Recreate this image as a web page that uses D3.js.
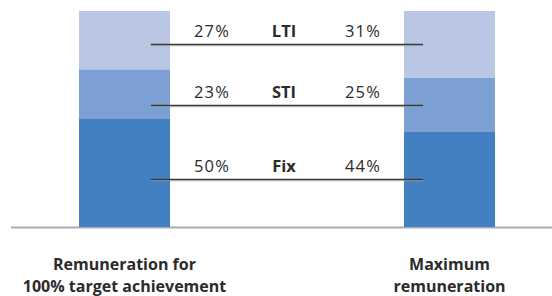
<!DOCTYPE html>
<html>
<head>
<meta charset="utf-8">
<script src="https://cdn.jsdelivr.net/npm/d3@7"></script>
<style>
  html, body { margin: 0; padding: 0; background: #fff; }
  svg { display: block; }
</style>
</head>
<body>
<svg id="chart" width="552" height="296"></svg>
<script>
const categories = ["Remuneration for|100% target achievement", "Maximum|remuneration"];
const components = ["Fix", "STI", "LTI"];
const fixValues = [50, 44];
const stiValues = [23, 25];
const ltiValues = [27, 31];
const yTicks = [0, 100];

const colors = { Fix: "#4380c2", STI: "#7c9fd4", LTI: "#b9c7e5" };
const seriesValues = { Fix: fixValues, STI: stiValues, LTI: ltiValues };

const svg = d3.select("#chart");
const W = 552, H = 296;

const x = d3.scaleBand().domain(categories).range([79, 495]).paddingInner(0.72).paddingOuter(0);
const y = d3.scaleLinear().domain([0, 100]).range([227, 11]);

const rows = categories.map((c, i) => {
  const r = { cat: c };
  components.forEach(k => r[k] = seriesValues[k][i]);
  return r;
});
const stacked = d3.stack().keys(components)(rows);

// baseline axis
svg.append("line")
  .attr("x1", 11).attr("x2", W)
  .attr("y1", y(0) + 0.5).attr("y2", y(0) + 0.5)
  .attr("stroke", "#a7aeb2").attr("stroke-width", 2);

// bars
svg.append("g").selectAll("g").data(stacked).join("g")
  .attr("fill", d => colors[d.key])
  .selectAll("rect").data(d => d).join("rect")
  .attr("x", d => x(d.data.cat))
  .attr("width", x.bandwidth())
  .attr("y", d => y(d[1]))
  .attr("height", d => y(d[0]) - y(d[1]));

// leader lines and labels
const last = categories.length - 1;
const lineX1 = x(categories[0]) + x.bandwidth() * 0.79;
const lineX2 = x(categories[last]) + x.bandwidth() * 0.21;
const leftX = 212, midX = 284, rightX = 363;

stacked.forEach(s => {
  const seg = s[last];
  const ly = Math.round((y(seg[0]) + y(seg[1])) / 2) + 0.5;
  svg.append("line")
    .attr("x1", lineX1).attr("x2", lineX2)
    .attr("y1", ly).attr("y2", ly)
    .attr("stroke", "#3a3a3a").attr("stroke-width", 1.3);
  svg.append("line")
    .attr("x1", lineX1).attr("x2", lineX2)
    .attr("y1", ly + 1.2).attr("y2", ly + 1.2)
    .attr("stroke", "#9a9a9a").attr("stroke-width", 0.8);
  const ty = ly - 8;
  const g = svg.append("g")
    .attr("font-family", "'Open Sans', sans-serif")
    .attr("font-size", 16.5)
    .attr("fill", "#2b2b2b")
    .attr("text-anchor", "middle");
  g.append("text").attr("x", leftX).attr("y", ty).attr("letter-spacing", 1.2)
    .text(seriesValues[s.key][0] + "%");
  g.append("text").attr("x", midX).attr("y", ty).attr("font-weight", "bold")
    .text(s.key);
  g.append("text").attr("x", rightX).attr("y", ty).attr("letter-spacing", 1.2)
    .text(seriesValues[s.key][last] + "%");
});

// category labels
categories.forEach(c => {
  const cx = x(c) + x.bandwidth() / 2;
  c.split("|").forEach((ln, i) => {
    svg.append("text")
      .attr("font-family", "'Open Sans', sans-serif")
      .attr("font-size", 16)
      .attr("font-weight", "bold")
      .attr("fill", "#2b2b2b")
      .attr("text-anchor", "middle")
      .attr("x", cx).attr("y", 270 + i * 22).text(ln);
  });
});
</script>
</body>
</html>
